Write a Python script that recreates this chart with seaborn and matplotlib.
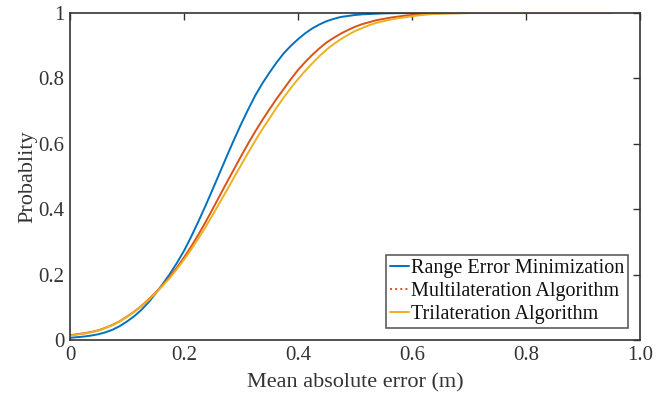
import numpy as np
import pandas as pd
import matplotlib
matplotlib.use("Agg")
import matplotlib.pyplot as plt
from matplotlib.lines import Line2D
import seaborn as sns

# ─── Данные ────────────────────────────────────────────────────────────────────
mae = [0.0000, 0.0125, 0.0250, 0.0375, 0.0500, 0.0625, 0.0750, 0.0875, 0.1000, 0.1125,
       0.1250, 0.1375, 0.1500, 0.1625, 0.1750, 0.1875, 0.2000, 0.2125, 0.2250, 0.2375,
       0.2500, 0.2625, 0.2750, 0.2875, 0.3000, 0.3125, 0.3250, 0.3375, 0.3500, 0.3625,
       0.3750, 0.3875, 0.4000, 0.4125, 0.4250, 0.4375, 0.4500, 0.4625, 0.4750, 0.4875,
       0.5000, 0.5125, 0.5250, 0.5375, 0.5500, 0.5625, 0.5750, 0.5875, 0.6000, 0.6125,
       0.6250, 0.6375, 0.6500, 0.6625, 0.6750, 0.6875, 0.7000, 0.7500, 0.8000, 0.8500,
       0.9000, 0.9500]

range_error_min = [0.007, 0.009, 0.011, 0.014, 0.018, 0.024, 0.032, 0.043, 0.057, 0.073,
                   0.092, 0.115, 0.142, 0.171, 0.202, 0.236, 0.273, 0.316, 0.362, 0.410,
                   0.460, 0.511, 0.562, 0.612, 0.660, 0.705, 0.748, 0.785, 0.818, 0.849,
                   0.877, 0.900, 0.920, 0.938, 0.953, 0.965, 0.975, 0.982, 0.988, 0.991,
                   0.994, 0.996, 0.997, 0.998, 0.999, 0.9993, 0.9996, 0.9998, 1.000, 1.000,
                   1.000, 1.000, 1.000, 1.000, 1.000, 1.000, 1.000, 1.000, 1.000, 1.000,
                   1.000, 1.000]

multilateration = [0.015, 0.018, 0.021, 0.025, 0.030, 0.038, 0.047, 0.058, 0.072, 0.087,
                   0.104, 0.124, 0.145, 0.168, 0.194, 0.222, 0.253, 0.286, 0.322, 0.360,
                   0.400, 0.441, 0.482, 0.522, 0.562, 0.601, 0.638, 0.673, 0.706, 0.738,
                   0.768, 0.798, 0.826, 0.850, 0.872, 0.892, 0.910, 0.924, 0.937, 0.948,
                   0.958, 0.966, 0.972, 0.978, 0.982, 0.986, 0.989, 0.992, 0.994, 0.996,
                   0.997, 0.998, 0.999, 0.9994, 0.9996, 0.9998, 1.000, 1.000, 1.000, 1.000,
                   1.000, 1.000]

trilateration = [0.014, 0.017, 0.020, 0.024, 0.029, 0.037, 0.046, 0.057, 0.071, 0.086,
                 0.103, 0.122, 0.143, 0.166, 0.190, 0.217, 0.246, 0.277, 0.310, 0.345,
                 0.382, 0.420, 0.458, 0.497, 0.535, 0.573, 0.610, 0.645, 0.678, 0.711,
                 0.742, 0.771, 0.798, 0.823, 0.846, 0.868, 0.888, 0.905, 0.920, 0.933,
                 0.945, 0.954, 0.963, 0.970, 0.975, 0.980, 0.984, 0.987, 0.990, 0.993,
                 0.995, 0.997, 0.998, 0.9985, 0.999, 0.9995, 1.000, 1.000, 1.000, 1.000,
                 1.000, 1.000]

methods = ["Range Error Minimization", "Multilateration Algorithm", "Trilateration Algorithm"]
colors = ["#0072BD", "#D95319", "#EDB120"]
legend_styles = ["-", ":", "-"]

x_ticks = [0, 0.2, 0.4, 0.6, 0.8, 1.0]
x_labels = ["0", "0.2", "0.4", "0.6", "0.8", "1.0"]
y_ticks = [0, 0.2, 0.4, 0.6, 0.8, 1.0]
y_labels = ["0", "0.2", "0.4", "0.6", "0.8", "1"]

df = pd.DataFrame({
    "mae": mae * 3,
    "prob": range_error_min + multilateration + trilateration,
    "method": [m for m in methods for _ in mae],
})

# ─── Стиль ─────────────────────────────────────────────────────────────────────
sns.set_style("white")
plt.rcParams["font.family"] = ["Liberation Serif", "DejaVu Serif"]
ink = "#333333"

fig = plt.figure(figsize=(6.67, 3.95), dpi=100)
ax = fig.add_axes([0.105, 0.139, 0.8545, 0.828])

sns.lineplot(data=df, x="mae", y="prob", hue="method", hue_order=methods,
             palette=dict(zip(methods, colors)), linewidth=1.4, legend=False, ax=ax)

ax.set_xlim(0, 1)
ax.set_ylim(0, 1)
ax.set_xticks(x_ticks)
ax.set_xticklabels(x_labels)
ax.set_yticks(y_ticks)
ax.set_yticklabels(y_labels)
ax.tick_params(direction="in", top=True, right=True, length=5, width=1,
               labelsize=15, colors=ink, pad=4)
for s in ax.spines.values():
    s.set_color(ink)
    s.set_linewidth(1.2)

ax.set_xlabel("Mean absolute error (m)", fontsize=16, color=ink, labelpad=6)
ax.set_ylabel("Probablity", fontsize=16, color=ink, labelpad=1)

# ─── Легенда ───────────────────────────────────────────────────────────────────
handles = [Line2D([0], [0], color=c, ls=ls, lw=1.4) for c, ls in zip(colors, legend_styles)]
leg = ax.legend(handles, methods, loc="lower right", fontsize=14.5, frameon=True,
                fancybox=False, handlelength=0.9, handletextpad=0.1,
                borderpad=0.2, labelspacing=0.2, borderaxespad=0.6)
leg.get_frame().set_edgecolor(ink)
leg.get_frame().set_linewidth(1.2)
for t in leg.get_texts():
    t.set_color("#111111")

fig.savefig("out.png", dpi=100)
plt.close(fig)
